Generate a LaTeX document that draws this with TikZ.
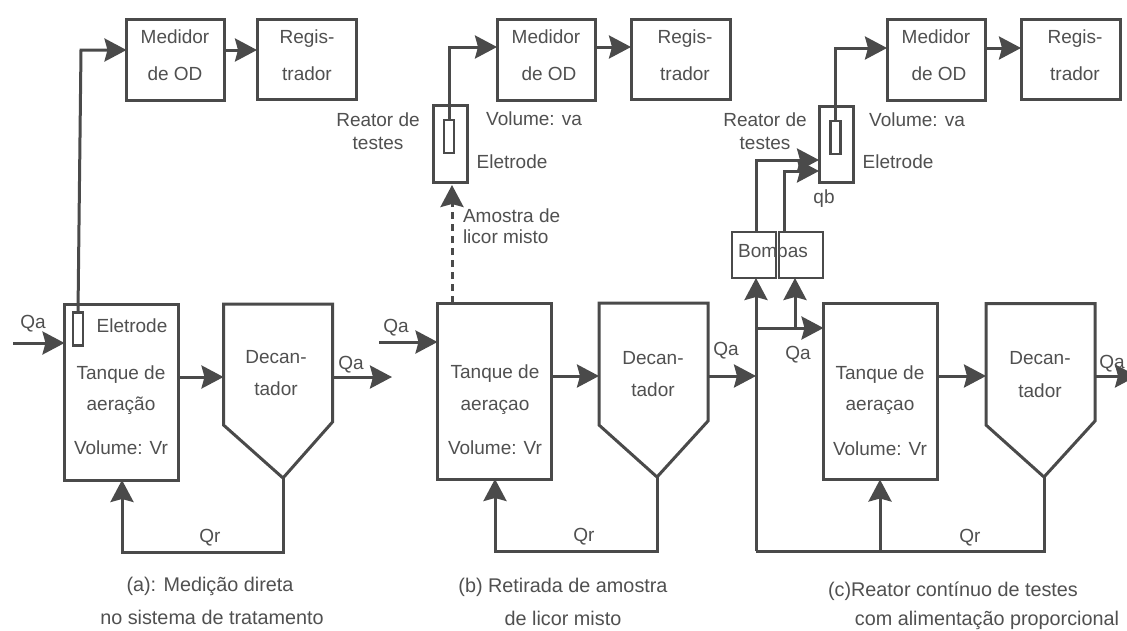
\documentclass[tikz,border=0pt]{standalone}
\usepackage{fontspec}
\setmainfont{Liberation Sans}
\usetikzlibrary{arrows.meta}
\definecolor{ink}{HTML}{4A4A4A}
\definecolor{txt}{HTML}{505050}
\tikzset{
  px/.style={x=1pt,y=-1pt},
  box/.style={draw=ink,line width=3pt,inner sep=0pt,outer sep=0pt,fill=white},
  thinbox/.style={draw=ink,line width=1.4pt,inner sep=0pt,outer sep=0pt},
  probe/.style={draw=ink,line width=2.4pt,inner sep=0pt,outer sep=0pt,minimum width=10pt,minimum height=33pt},
  ghost/.style={inner sep=0pt,outer sep=0pt},
  medbox/.style={box,minimum width=98pt,minimum height=81pt},
  regbox/.style={box,minimum width=99pt,minimum height=80pt},
  tankbox/.style={box,minimum width=114pt,minimum height=176pt},
  decbody/.style={ghost,minimum width=109pt,minimum height=174pt},
  lab/.style={text=txt,font=\fontsize{19}{19}\selectfont,inner sep=0pt,outer sep=0pt,anchor=center,text height=13pt,text depth=4pt,yshift=-2pt},
  caption/.style={lab,font=\fontsize{19.8}{20}\selectfont},
  wire/.style={draw=ink,line width=3pt},
  arr/.style={wire,-{Stealth[length=22pt,width=23pt,inset=3pt,fill=ink]}},
}
\begin{document}
\begin{tikzpicture}[px]
\useasboundingbox (0,0) rectangle (1127,630);
\fill[white] (0,0) rectangle (1127,630);
\clip (0,0) rectangle (1127,630);

% ---------- panel a
\node[medbox] (med1) at (175.5,59.5) {};
\node[regbox] (reg1) at (306.5,59) {};
\node[tankbox] (tan1) at (121.5,392) {};
\node[decbody] (dec1) at (278,391) {};
\coordinate (tip1) at (283,478);
\draw[wire,line join=miter] (dec1.north west) -- (dec1.north east) -- (dec1.east |- 0,422) -- (tip1) -- (dec1.west |- 0,425) -- cycle;
\node[probe] (el1) at (78,329) {};
\coordinate (bend1) at (81,50);
\coordinate (in1) at (13,343);
\coordinate (out1) at (392,377);
\coordinate (low1) at (283,552);
\draw[arr] (el1.north) -- (bend1) -- (med1.west |- bend1);
\draw[arr] (med1.east |- 0,50) -- (reg1.west |- 0,50);
\draw[arr] (in1) -- (tan1.west |- in1);
\draw[arr] (tan1.east |- 0,377) -- (dec1.west |- 0,377);
\draw[arr] (dec1.east |- 0,377) -- (out1);
\draw[arr] (tip1) -- (low1) -- (122,552) -- (tan1.south -| 122,0);
\node[lab] (a1) at (175,37) {Medidor};
\node[lab] (a2) at (175,74) {de OD};
\node[lab] (a3) at (307,37) {Regis-};
\node[lab] (a4) at (307,74) {trador};
\node[lab] (a5) at (33,322) {Qa};
\node[lab] (a6) at (132,326) {Eletrode};
\node[lab] (a7) at (121,373) {Tanque de};
\node[lab] (a8) at (121,404) {aeração};
\node[lab] (a9) at (121,448) {Volume: Vr};
\node[lab] (a10) at (276,357) {Decan-};
\node[lab] (a11) at (276,389) {tador};
\node[lab] (a12) at (351,363) {Qa};
\node[lab] (a13) at (210,536) {Qr};
\node[caption] (a14) at (210,585) {(a): Medição direta};
\node[caption] (a15) at (212,618) {no sistema de tratamento};

% ---------- panel b
\node[medbox] (med2) at (546,59.5) {};
\node[regbox] (reg2) at (680.5,59) {};
\node[box,minimum width=34pt,minimum height=77pt] (rea2) at (450,143.5) {};
\node[probe] (el2) at (449,136.5) {};
\node[tankbox] (tan2) at (494.5,391) {};
\node[decbody] (dec2) at (653.5,390) {};
\coordinate (tip2) at (657,477);
\draw[wire,line join=miter] (dec2.north west) -- (dec2.north east) -- (dec2.east |- 0,421) -- (tip2) -- (dec2.west |- 0,425) -- cycle;
\coordinate (in2) at (379,342);
\coordinate (low2) at (657,551);
\draw[arr] (el2.north) |- (med2.west |- 0,47);
\draw[arr] (med2.east |- 0,47) -- (reg2.west |- 0,47);
\draw[arr,dash pattern=on 7pt off 5pt,shorten >=3pt] (tan2.north -| 452,0) -- (rea2.south -| 452,0);
\draw[arr] (in2) -- (tan2.west |- in2);
\draw[arr] (tan2.east |- 0,376) -- (dec2.west |- 0,376);
\draw[arr] (tip2) -- (low2) -- (495,551) -- (tan2.south -| 495,0);
\node[lab] (b1) at (546,37) {Medidor};
\node[lab] (b2) at (549,74) {de OD};
\node[lab] (b3) at (685,37) {Regis-};
\node[lab] (b4) at (685,74) {trador};
\node[lab] (b5) at (378,120) {Reator de};
\node[lab] (b6) at (378,143) {testes};
\node[lab] (b7) at (534,119) {Volume: va};
\node[lab] (b8) at (512,162) {Eletrode};
\node[lab,anchor=west] (b9) at (463,216) {Amostra de};
\node[lab,anchor=west] (b10) at (463,237) {licor misto};
\node[lab] (b11) at (396,326) {Qa};
\node[lab] (b12) at (495,372) {Tanque de};
\node[lab] (b13) at (495,404) {aeraçao};
\node[lab] (b14) at (495,448) {Volume: Vr};
\node[lab] (b15) at (653,358) {Decan-};
\node[lab] (b16) at (653,390) {tador};
\node[lab] (b17) at (726,349) {Qa};
\node[lab] (b18) at (584,535) {Qr};
\node[caption] (b19) at (563,586) {(b) Retirada de amostra};
\node[caption] (b20) at (563,619) {de licor misto};

% ---------- panel c
\node[medbox] (med3) at (936,60) {};
\node[regbox] (reg3) at (1070.5,59) {};
\node[box,minimum width=34pt,minimum height=76pt] (rea3) at (836,144) {};
\node[probe] (el3) at (835.5,137.5) {};
\node[thinbox,minimum width=44pt,minimum height=46pt] (bo1) at (754,255) {};
\node[thinbox,minimum width=44pt,minimum height=46pt] (bo2) at (801,255) {};
\node[tankbox] (tan3) at (880.5,391.5) {};
\node[decbody] (dec3) at (1040.5,390.5) {};
\coordinate (tip3) at (1044,477);
\draw[wire,line join=miter] (dec3.north west) -- (dec3.north east) -- (dec3.east |- 0,421) -- (tip3) -- (dec3.west |- 0,425) -- cycle;
\coordinate (low3) at (1044,551);
\coordinate (corner3) at (756,551);
\coordinate (split3) at (756,328);
\coordinate (branch3) at (795,328);
\coordinate (drop3) at (880,551);
\coordinate (out3) at (1137,376);
\draw[arr] (dec2.east |- 0,376) -- (756,376);
\draw[arr] (el3.north) |- (med3.west |- 0,48);
\draw[arr] (med3.east |- 0,48) -- (reg3.west |- 0,48);
\draw[arr] (bo1.north -| 756,0) |- (rea3.west |- 0,160);
\draw[arr] (bo2.north -| 784,0) |- (rea3.west |- 0,171);
\draw[arr] (corner3) -- (bo1.south -| corner3);
\draw[arr] (split3) -- (tan3.west |- split3);
\draw[arr] (branch3) -- (bo2.south -| branch3);
\draw[wire] (tip3) -- (low3) -- (corner3);
\draw[arr] (drop3) -- (tan3.south -| drop3);
\draw[arr] (tan3.east |- 0,376) -- (dec3.west |- 0,376);
\draw[arr] (dec3.east |- 0,376) -- (out3);
\node[lab] (c1) at (936,37) {Medidor};
\node[lab] (c2) at (939,74) {de OD};
\node[lab] (c3) at (1075,37) {Regis-};
\node[lab] (c4) at (1075,74) {trador};
\node[lab] (c5) at (765,120) {Reator de};
\node[lab] (c6) at (765,143) {testes};
\node[lab] (c7) at (917,120) {Volume: va};
\node[lab] (c8) at (898,162) {Eletrode};
\node[lab] (c9) at (824,197) {qb};
\node[lab] (c10) at (773,251) {Bombas};
\node[lab] (c11) at (798,353) {Qa};
\node[lab] (c12) at (880,373) {Tanque de};
\node[lab] (c13) at (880,404) {aeraçao};
\node[lab] (c14) at (880,449) {Volume: Vr};
\node[lab] (c15) at (1040,358) {Decan-};
\node[lab] (c16) at (1040,391) {tador};
\node[lab] (c17) at (1112,362) {Qa};
\node[lab] (c18) at (970,536) {Qr};
\node[caption] (c19) at (953,590) {(c)Reator contínuo de testes};
\node[caption] (c20) at (987,619) {com alimentação proporcional};
\end{tikzpicture}
\end{document}
